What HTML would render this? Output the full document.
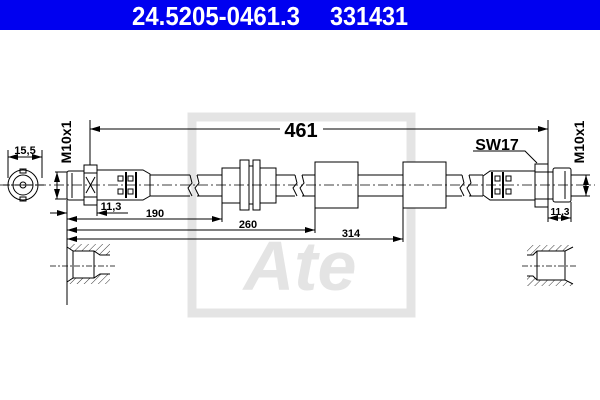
<!DOCTYPE html>
<html><head><meta charset="utf-8"><style>html,body{margin:0;padding:0;background:#fff}svg{display:block}</style></head>
<body>
<svg width="600" height="400" viewBox="0 0 600 400" xmlns="http://www.w3.org/2000/svg" font-family="Liberation Sans, sans-serif">
<defs>
<marker id="a" viewBox="0 0 10 6" refX="10" refY="3" markerWidth="10" markerHeight="6" orient="auto-start-reverse" markerUnits="userSpaceOnUse"><path d="M0,0 L10,3 L0,6z" fill="#000"/></marker>
<pattern id="h" width="5" height="5" patternUnits="userSpaceOnUse" patternTransform="rotate(45)"><line x1="0" y1="0" x2="0" y2="5" stroke="#000" stroke-width="0.8"/></pattern>
</defs>
<rect x="0" y="0" width="600" height="30" fill="#0000f0"/>
<text x="132" y="25" fill="#fff" font-weight="bold" font-size="26" textLength="168" lengthAdjust="spacingAndGlyphs">24.5205-0461.3</text>
<text x="330" y="25" fill="#fff" font-weight="bold" font-size="26" textLength="78" lengthAdjust="spacingAndGlyphs">331431</text>
<!-- watermark -->
<rect x="192" y="117" width="219" height="196" fill="none" stroke="#e4e4e4" stroke-width="9"/>
<text x="300" y="290" fill="#e4e4e4" font-weight="bold" font-style="italic" font-size="70" text-anchor="middle">Ate</text>
<g stroke="#000" fill="none" stroke-width="1">
<circle cx="23" cy="185" r="15"/><circle cx="23" cy="185" r="10"/><circle cx="23" cy="185" r="3"/>
<rect x="20" y="169" width="6" height="4"/><rect x="20" y="197" width="6" height="4"/>
<line x1="8" y1="150" x2="8" y2="178"/><line x1="42" y1="150" x2="42" y2="178"/>
<line x1="8" y1="157" x2="42" y2="157" marker-start="url(#a)" marker-end="url(#a)"/>
<line x1="3" y1="185" x2="44" y2="185" stroke-dasharray="6,2,2,2"/>
<line x1="90" y1="120" x2="90" y2="168"/><line x1="548" y1="120" x2="548" y2="165"/>
<line x1="90" y1="129" x2="280" y2="129" marker-start="url(#a)"/>
<line x1="323" y1="129" x2="548" y2="129" marker-end="url(#a)"/>
<line x1="55" y1="172" x2="67" y2="172"/><line x1="55" y1="199" x2="67" y2="199"/>
<line x1="57" y1="172" x2="57" y2="199" marker-start="url(#a)" marker-end="url(#a)"/>
<g fill="#fff">
<path d="M150,175 H190 M150,196 H190 M197,175 H222 M197,196 H222"/>
<path d="M276,175 H295 M276,196 H295 M302,175 H315 M302,196 H315"/>
<path d="M358,175 H403 M358,196 H403 M446,175 H462 M446,196 H462 M469,175 H483 M469,196 H483"/>
<path d="M190,175 L192,183 188,188 192,196 M197,175 L199,183 195,188 199,196"/>
<path d="M295,175 L297,183 293,188 297,196 M302,175 L304,183 300,188 304,196"/>
<path d="M462,175 L464,183 460,188 464,196 M469,175 L471,183 467,188 471,196"/>
<rect x="67" y="171" width="18" height="29" rx="2"/>
<line x1="72" y1="173" x2="72" y2="198"/>
<rect x="84" y="165" width="13" height="40"/>
<line x1="84" y1="173" x2="97" y2="173"/><line x1="84" y1="197" x2="97" y2="197"/>
<path d="M86,177 L95,193 M95,177 L86,193"/>
<path d="M97,170 H143 L150,174 V196 L143,200 H97 Z"/>
<rect x="118" y="176" width="5" height="5"/><rect x="118" y="189" width="5" height="5"/>
<rect x="128" y="176" width="5" height="5"/><rect x="128" y="189" width="5" height="5"/>
<line x1="126" y1="172" x2="126" y2="198" stroke-width="2"/><line x1="136" y1="172" x2="136" y2="198" stroke-width="2"/>
<rect x="222" y="168" width="18" height="35"/>
<rect x="240" y="160" width="9" height="50"/>
<rect x="249" y="166" width="4" height="38"/>
<rect x="253" y="160" width="7" height="50"/>
<rect x="260" y="168" width="16" height="35"/>
<rect x="315" y="162" width="43" height="46"/>
<rect x="403" y="162" width="43" height="46"/>
<path d="M483,176 L490,171 H535 V200 H490 L483,195 Z"/>
<rect x="495" y="176" width="5" height="5"/><rect x="495" y="189" width="5" height="5"/>
<rect x="506" y="176" width="5" height="5"/><rect x="506" y="189" width="5" height="5"/>
<line x1="492" y1="172" x2="492" y2="198" stroke-width="2"/><line x1="503" y1="172" x2="503" y2="198" stroke-width="2"/>
<rect x="535" y="164" width="13" height="43"/>
<line x1="535" y1="172" x2="548" y2="172"/><line x1="535" y1="199" x2="548" y2="199"/>
<rect x="548" y="172" width="5" height="27"/>
<rect x="553" y="168" width="18" height="34" rx="2"/>
<line x1="565" y1="171" x2="565" y2="199"/>
</g>
<line x1="0" y1="185" x2="595" y2="185" stroke-dasharray="10,3,2,3" stroke-width="0.8"/>
<line x1="571" y1="175" x2="590" y2="175"/><line x1="571" y1="196" x2="590" y2="196"/>
<line x1="586" y1="175" x2="586" y2="196" marker-start="url(#a)" marker-end="url(#a)"/>
<path d="M473,151 H525 L537,163"/>
<line x1="67" y1="200" x2="67" y2="305"/>
<line x1="97" y1="205" x2="97" y2="216"/>
<line x1="50" y1="213" x2="67" y2="213" marker-end="url(#a)"/>
<line x1="97" y1="213" x2="128" y2="213" marker-start="url(#a)"/>
<line x1="222" y1="203" x2="222" y2="222"/>
<line x1="67" y1="219" x2="222" y2="219" marker-start="url(#a)" marker-end="url(#a)"/>
<line x1="315" y1="208" x2="315" y2="233"/>
<line x1="67" y1="230" x2="315" y2="230" marker-start="url(#a)" marker-end="url(#a)"/>
<line x1="403" y1="208" x2="403" y2="242"/>
<line x1="67" y1="239" x2="403" y2="239" marker-start="url(#a)" marker-end="url(#a)"/>
<line x1="548" y1="207" x2="548" y2="222"/><line x1="571" y1="202" x2="571" y2="222"/>
<line x1="548" y1="218" x2="571" y2="218" marker-start="url(#a)" marker-end="url(#a)"/>
<!-- left section -->
<path d="M67,244 H110 V255 H100 L94,251 H73 L67,247 Z" fill="url(#h)" stroke="none"/>
<path d="M67,284 H110 V274 H100 L94,278 H73 L67,282 Z" fill="url(#h)" stroke="none"/>
<path d="M67,247 L73,251 V278 L67,282 M73,251 H94 L100,255 H110 M73,278 H94 L100,274 H110 M94,251 V278"/>
<line x1="50" y1="266" x2="115" y2="266" stroke-dasharray="6,2,2,2" stroke-width="0.7"/>
<!-- right section -->
<path d="M573,245 H527 V255 H533 L537,251 H565 L573,247 Z" fill="url(#h)" stroke="none"/>
<path d="M573,286 H527 V276 H533 L537,280 H565 L573,284 Z" fill="url(#h)" stroke="none"/>
<path d="M573,247 L565,251 V280 L573,284 M565,251 H537 L533,255 H527 M565,280 H537 L533,276 H527 M537,251 V280"/>
<line x1="522" y1="266" x2="578" y2="266" stroke-dasharray="6,2,2,2" stroke-width="0.7"/>
</g>
<g font-weight="bold" fill="#000">
<text x="301" y="137" font-size="20" text-anchor="middle">461</text>
<text x="497" y="150" font-size="16" text-anchor="middle">SW17</text>
<text x="25" y="154" font-size="11" text-anchor="middle">15,5</text>
<text transform="translate(71,142) rotate(-90)" font-size="14" text-anchor="middle">M10x1</text>
<text transform="translate(584,142) rotate(-90)" font-size="14" text-anchor="middle">M10x1</text>
<text x="111" y="210" font-size="11" text-anchor="middle">11,3</text>
<text x="560" y="215" font-size="10" text-anchor="middle">11,3</text>
<text x="155" y="217" font-size="11" text-anchor="middle">190</text>
<text x="248" y="228" font-size="11" text-anchor="middle">260</text>
<text x="351" y="237" font-size="11" text-anchor="middle">314</text>
</g>
</svg>
</body></html>
